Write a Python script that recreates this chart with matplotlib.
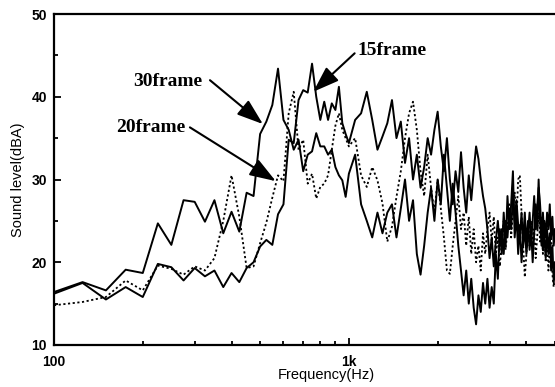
import numpy as np
import matplotlib
matplotlib.use("Agg")
import matplotlib.pyplot as plt
from matplotlib.ticker import FixedLocator, NullFormatter

# frequency grid: 25 Hz steps to 1k, 50 Hz steps above
freq = np.concatenate([np.arange(100, 1001, 25), np.arange(1050, 5001, 50)])

frame30 = [
    16.4, 17.6, 16.6, 19.1, 18.7, 24.7, 22.1, 27.5, 27.3, 24.9,
    27.5, 23.5, 26.1, 23.7, 28.4, 28.0, 35.5, 37.0, 39.0, 43.4,
    37.2, 36.0, 33.6, 34.8, 31.0, 33.0, 33.4, 35.6, 34.0, 34.0,
    33.0, 33.6, 31.5, 30.5, 29.9, 27.9, 30.7,
    33.0, 27.0, 25.0, 23.0, 26.0, 23.5, 26.0, 27.0, 23.0, 26.5,
    30.0, 25.0, 27.5, 21.0, 18.5, 22.0, 26.0, 29.0, 25.0, 30.0,
    27.0, 33.0, 29.0, 25.0, 29.5, 26.0, 22.0, 19.0, 16.0, 19.0,
    15.0, 18.0, 14.5, 12.5, 16.0, 14.0, 17.5, 15.0, 18.0, 14.5,
    17.0, 15.0, 21.0, 18.0, 24.0, 21.0, 26.0, 22.0, 28.0, 24.0,
    27.0, 31.0, 23.0, 26.0, 21.0, 24.5, 20.0, 23.0, 26.0, 22.0,
    25.0, 21.5, 24.0, 20.0, 23.5, 27.0, 24.0, 30.0, 25.0, 22.0,
    26.0, 23.0, 20.5, 24.0, 21.0, 23.5, 19.0, 22.0, 17.5, 20.0,
]

frame20 = [
    14.8, 15.2, 15.8, 17.8, 16.6, 19.6, 19.2, 18.5, 19.5, 19.0,
    20.5, 25.0, 30.5, 25.5, 19.3, 19.5, 22.3, 24.8, 27.8, 30.5,
    29.8, 38.0, 40.6, 33.6, 34.8, 29.5, 30.7, 27.7, 29.1, 29.5,
    30.5, 33.6, 36.5, 38.0, 36.0, 35.0, 34.0,
    35.0, 30.5, 29.1, 31.5, 29.9, 27.1, 22.5, 24.3, 27.9, 31.0,
    35.0, 38.0, 39.4, 36.0, 31.0, 28.0, 33.0, 29.0, 26.0, 30.0,
    26.5, 23.0, 19.0, 18.6, 22.0, 25.0, 28.0, 24.0, 26.0, 22.0,
    25.5, 21.0, 24.0, 20.0, 22.0, 19.0, 23.5, 21.0, 24.0, 26.0,
    22.5, 25.5, 21.0, 23.0, 19.5, 22.5, 25.0, 21.5, 24.0, 27.0,
    23.0, 26.0, 28.5, 25.0, 30.0, 30.5, 26.0, 22.0, 18.2, 21.0,
    24.5, 22.0, 25.0, 21.5, 24.0, 20.5, 23.0, 26.0, 22.5, 25.5,
    21.0, 24.0, 20.0, 22.5, 19.0, 21.5, 24.0, 18.5, 17.0, 19.5,
]

frame15 = [
    16.2, 17.5, 15.5, 17.0, 15.8, 19.8, 19.4, 17.8, 19.3, 18.3,
    19.0, 17.0, 18.7, 17.6, 19.3, 20.0, 21.9, 22.7, 22.1, 25.8,
    27.0, 34.8, 34.4, 39.6, 40.8, 40.5, 44.0, 40.0, 37.2, 39.4,
    37.2, 39.2, 38.4, 41.2, 36.8, 35.5, 34.4,
    37.2, 38.0, 40.6, 37.2, 33.6, 35.2, 36.8, 39.6, 35.0, 37.0,
    32.0, 35.0, 30.0, 33.0, 29.0, 31.5, 35.0, 33.0, 36.0, 38.2,
    34.0, 31.0, 35.0, 30.0, 27.0, 31.0, 28.5, 33.3, 29.0, 26.0,
    30.5, 27.5, 31.0, 34.0, 32.5, 30.0, 28.0, 26.5, 24.0, 20.5,
    23.0, 19.5, 22.5, 25.0, 22.0, 24.0, 21.0, 25.0, 23.0, 26.5,
    24.0, 28.0, 25.0, 27.5, 24.5, 23.0, 26.0, 22.0, 24.0, 21.0,
    23.5, 26.0, 22.5, 25.0, 28.0, 24.0, 26.5, 29.0, 27.0, 24.0,
    21.5, 25.0, 23.0, 26.0, 24.0, 27.0, 23.0, 25.5, 22.0, 24.0,
]

labels = ["30frame", "20frame", "15frame"]
# text left edge, arrow tail, arrow tip (data units)
label_pos = [(185, 41.9), (163, 36.3), (1065, 45.6)]
arrow_tail = [(338, 42.0), (289, 36.3), (1046, 45.25)]
arrow_tip = [(511, 36.7), (565, 29.8), (757, 40.6)]

fig = plt.figure(figsize=(5.55, 3.87), dpi=100)
ax = fig.add_axes([54 / 555, 42 / 387, 1 - 54 / 555, 331 / 387])

ax.plot(freq, frame30, color="black", lw=1.4)
ax.plot(freq, frame15, color="black", lw=1.4)
ax.plot(freq, frame20, color="black", lw=1.3, ls=(0, (1.2, 1.4)))

ax.set_xscale("log")
ax.set_xlim(100, 5000)
ax.set_ylim(10, 50)

ax.xaxis.set_major_locator(FixedLocator([100, 1000]))
ax.set_xticklabels(["100", "1k"])
ax.xaxis.set_minor_locator(FixedLocator([200, 300, 400, 500, 600, 700, 800, 900, 2000, 3000, 4000, 5000]))
ax.xaxis.set_minor_formatter(NullFormatter())
ax.set_yticks([10, 20, 30, 40, 50])
ax.yaxis.set_minor_locator(FixedLocator([15, 25, 35, 45]))

ax.tick_params(which="both", direction="in", width=1.3)
ax.tick_params(which="major", length=5, labelsize=10, pad=5)
ax.tick_params(axis="x", which="major", pad=7)
ax.tick_params(which="minor", length=3)
for t in ax.get_xticklabels() + ax.get_yticklabels():
    t.set_fontweight("bold")
    t.set_family("Liberation Sans")

for s in ["left", "bottom", "top"]:
    ax.spines[s].set_linewidth(1.6)
ax.spines["right"].set_visible(False)

ax.set_xlabel("Frequency(Hz)", fontsize=10.5, family="Liberation Sans")
ax.set_ylabel("Sound level(dBA)", fontsize=10.5, family="Liberation Sans")
ax.xaxis.set_label_coords(0.543, -0.068)
ax.yaxis.set_label_coords(-0.057, 0.5)

for name, pos, tail, tip in zip(labels, label_pos, arrow_tail, arrow_tip):
    ax.text(pos[0], pos[1], name, fontsize=14, fontweight="bold",
            family="Liberation Serif", ha="left", va="center")
    ax.annotate("", xy=tip, xytext=tail,
                arrowprops=dict(arrowstyle="-|>,head_length=1.0,head_width=0.35",
                                mutation_scale=16, color="black", lw=1.5,
                                shrinkA=0, shrinkB=0))

fig.savefig("out.png", dpi=100)
